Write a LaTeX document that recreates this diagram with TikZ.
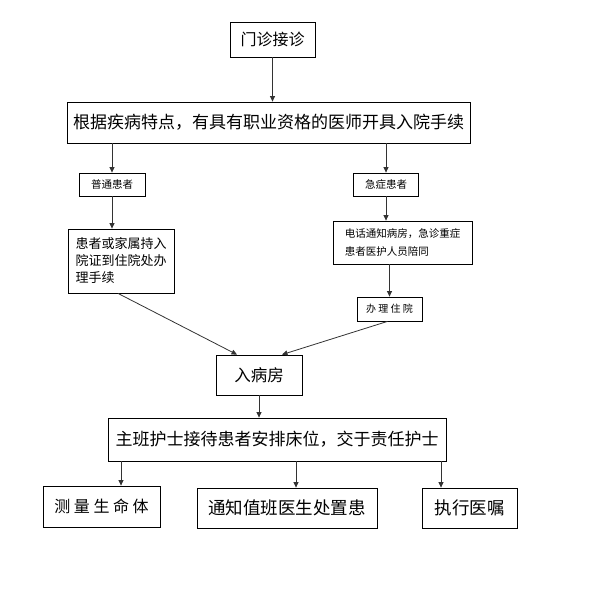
\documentclass[tikz,border=0pt]{standalone}
\usepackage{fontspec}
\setmainfont{Noto Sans CJK SC}
\usetikzlibrary{arrows.meta}
\newcommand{\fs}[2][0]{\fontsize{#2}{#2}\selectfont}
\tikzset{
  box/.style={draw, line width=0.8pt, inner sep=0pt},
  link/.style={-{Triangle[length=5.5pt,width=5pt]}, line width=0.8pt, draw=black!80},
}
\begin{document}
\begin{tikzpicture}[x=1pt,y=-1pt]
      \useasboundingbox (0,0) rectangle (602,613);
      \draw
        (272.5,39.5) node[box,minimum width=85,minimum height=35,font=\fs{16}] (mz){门诊接诊}
        (268.5,122.5) node[box,minimum width=403,minimum height=41,font=\fs{17}] (gj){根据疾病特点，有具有职业资格的医师开具入院手续}
        (112,184.5) node[box,minimum width=66,minimum height=23,font=\fs{10.5}] (pt){普通患者}
        (386,184.5) node[box,minimum width=65,minimum height=23,font=\fs{10.5}] (jz){急症患者}
        (121,261) node[box,minimum width=106,minimum height=64,align=left,
          font={\fontsize{13}{17}\selectfont}] (jt){患者或家属持入\\院证到住院处办\\理手续}
        (402.5,242.5) node[box,minimum width=139,minimum height=43,align=left,
          font={\fontsize{10.5}{18}\selectfont}] (dh){电话通知病房，急诊重症\\患者医护人员陪同}
        (389.5,309) node[box,minimum width=65,minimum height=24,font=\fs{10}] (bl){办 理 住 院}
        (259,375) node[box,minimum width=86,minimum height=40,font=\fs{16.5}] (rb){入病房}
        (277,439.5) node[box,minimum width=338,minimum height=43,font=\fs{17}] (zb){主班护士接待患者安排床位，交于责任护士}
        (101.5,506.5) node[box,minimum width=117,minimum height=41,font=\fs{16}] (cl){测 量 生 命 体}
        (287,508) node[box,minimum width=180,minimum height=40,font=\fs{17.5}] (tz){通知值班医生处置患}
        (469.5,508) node[box,minimum width=95,minimum height=40,font=\fs{17.5}] (zx){执行医嘱};
      \begin{scope}[link]
        \draw (mz.south) -- (mz.south |- gj.north);
        \draw (pt.north |- gj.south) -- (pt.north);
        \draw (jz.north |- gj.south) -- (jz.north);
        \draw (pt.south) -- (pt.south |- jt.north);
        \draw (jz.south) -- (jz.south |- dh.north);
        \draw (bl.north |- dh.south) -- (bl.north);
        \draw ([xshift=-3]jt.south) -- ([xshift=-22]rb.north);
        \draw ([xshift=-2]bl.south) -- ([xshift=23]rb.north);
        \draw (rb.south) -- (rb.south |- zb.north);
        \draw ([xshift=19.5]cl.north |- zb.south) -- ([xshift=19.5]cl.north);
        \draw ([xshift=9]tz.north |- zb.south) -- ([xshift=9]tz.north);
        \draw ([xshift=-28.5]zx.north |- zb.south) -- ([xshift=-28.5]zx.north);
      \end{scope}
    \end{tikzpicture}
\end{document}
